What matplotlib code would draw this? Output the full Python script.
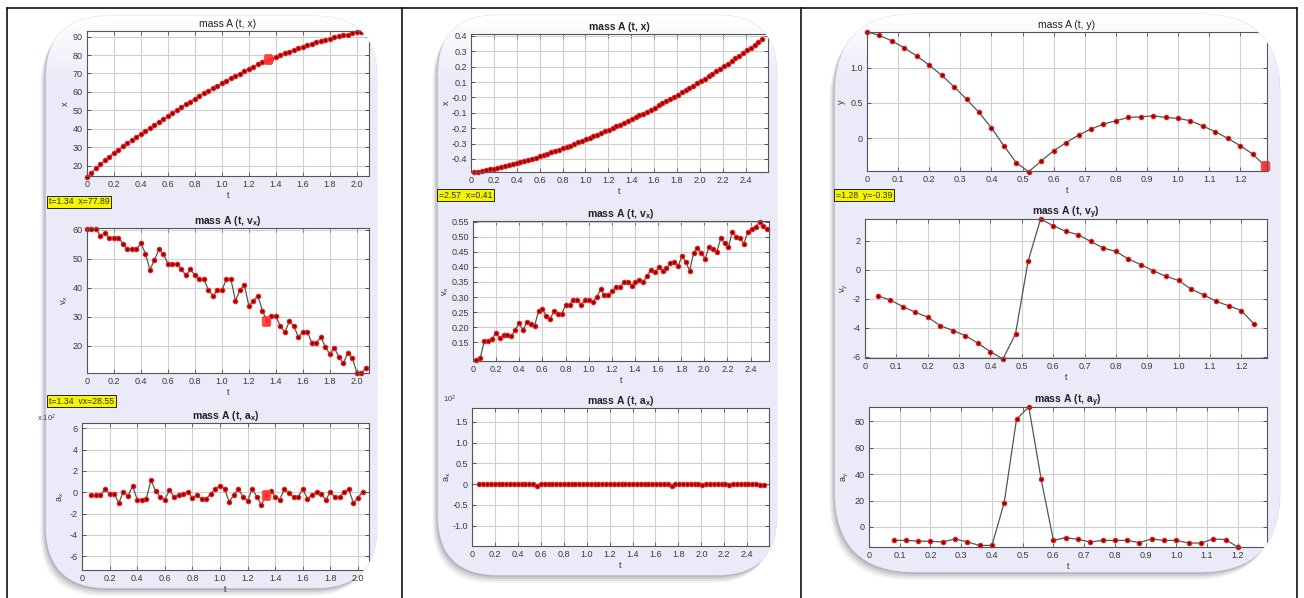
import numpy as np
import matplotlib
matplotlib.use('Agg')
import matplotlib.pyplot as plt
from matplotlib.patches import FancyBboxPatch

plt.rcParams['font.family'] = ['Liberation Sans', 'DejaVu Sans']
plt.rcParams['mathtext.default'] = 'regular'

# ---- panel 1 : mass A, x direction (dt = 1/30)
t1 = np.arange(63) / 30
x1 = [14.0, 16.3, 18.6, 20.8, 22.9, 25.0, 27.0, 28.8, 30.5, 32.2, 33.9, 35.6, 37.2, 38.9,
      40.5, 42.0, 43.6, 45.3, 47.0, 48.6, 50.2, 51.8, 53.4, 54.8, 56.4, 57.9, 59.3, 60.7,
      62.0, 63.3, 64.6, 65.9, 67.3, 68.7, 69.9, 71.2, 72.6, 73.7, 74.9, 76.1, 77.2, 78.1,
      79.1, 80.1, 81.0, 81.9, 82.8, 83.7, 84.5, 85.3, 86.1, 86.8, 87.5, 88.3, 88.9, 89.5,
      90.1, 90.7, 91.1, 91.7, 92.2, 92.6, 92.9]
v1 = [60.3, 60.3, 60.3, 57.8, 58.8, 57.0, 57.2, 57.2, 55.2, 53.2, 53.2, 53.2, 55.4, 51.7,
      46.2, 49.6, 53.2, 51.5, 48.3, 48.3, 48.3, 46.3, 44.3, 46.3, 44.3, 42.9, 42.9, 39.2,
      37.2, 39.2, 39.2, 42.9, 42.9, 35.5, 39.2, 40.9, 33.7, 35.5, 37.2, 32.1, 28.6, 30.2,
      30.2, 26.7, 24.7, 28.4, 26.7, 23.0, 24.7, 24.7, 21.0, 21.0, 23.0, 19.5, 17.2, 19.3,
      16.1, 14.0, 17.6, 15.9, 10.6, 10.6, 12.3]
a1 = [-0.3, -0.3, -0.3, 0.3, -0.15, -0.15, -1.0, 0.05, -0.35, 0.6,
      -0.7, -0.7, -0.6, 1.15, 0.1, -0.4, -0.7, 0.2, -0.4, -0.3,
      -0.15, 0.0, -0.5, -0.3, -0.6, -0.6, -0.15, 0.3, 0.6, 0.3,
      -0.9, -0.25, 0.3, -0.4, -0.8, 0.3, -0.4, -1.2, -0.25, 0.15,
      -0.4, -0.7, 0.3, -0.1, -0.45, -0.45, 0.3, -0.6, -0.25, 0.0,
      -0.15, -0.7, 0.0, -0.45, -0.45, 0.05, 0.3, -1.0, -0.55, 0.05]
tip1_t, tip1_x, tip1_v, tip1_a = 1.34, 77.89, 28.55, -0.3

# ---- panel 2 : mass A, x direction
t2 = np.linspace(0.03, 2.545, 76)
x2 = [-0.485, -0.482, -0.479, -0.473, -0.468, -0.463, -0.456, -0.451, -0.445, -0.439,
      -0.433, -0.426, -0.419, -0.413, -0.405, -0.398, -0.391, -0.382, -0.373, -0.365,
      -0.357, -0.349, -0.340, -0.332, -0.322, -0.313, -0.303, -0.293, -0.283, -0.273,
      -0.263, -0.253, -0.243, -0.232, -0.221, -0.211, -0.200, -0.188, -0.177, -0.165,
      -0.153, -0.141, -0.129, -0.117, -0.105, -0.092, -0.079, -0.066, -0.052, -0.038,
      -0.025, -0.011, 0.004, 0.017, 0.033, 0.047, 0.060, 0.076, 0.092, 0.107,
      0.122, 0.138, 0.154, 0.169, 0.186, 0.203, 0.219, 0.237, 0.254, 0.271,
      0.288, 0.306, 0.324, 0.343, 0.362, 0.380]
v2 = [0.089, 0.097, 0.155, 0.155, 0.159, 0.181, 0.163, 0.174, 0.174, 0.169,
      0.191, 0.213, 0.189, 0.218, 0.211, 0.205, 0.252, 0.261, 0.236, 0.228,
      0.252, 0.244, 0.244, 0.274, 0.274, 0.291, 0.291, 0.274, 0.291, 0.291,
      0.285, 0.299, 0.325, 0.307, 0.307, 0.321, 0.332, 0.332, 0.349, 0.349,
      0.338, 0.349, 0.357, 0.349, 0.371, 0.390, 0.382, 0.399, 0.388, 0.395,
      0.412, 0.418, 0.402, 0.437, 0.415, 0.388, 0.446, 0.463, 0.446, 0.428,
      0.467, 0.459, 0.451, 0.495, 0.479, 0.468, 0.518, 0.501, 0.495, 0.478,
      0.518, 0.526, 0.534, 0.550, 0.537, 0.526]
a2 = [0.0, 0.0, -0.01, 0.0, 0.0, 0.0, -0.01, 0.0, 0.0, 0.0,
      0.01, 0.0, 0.0, 0.0, -0.01, -0.04, 0.0, 0.0, 0.01, 0.0,
      0.0, 0.0, 0.0, -0.01, 0.0, 0.0, 0.0, 0.0, 0.01, 0.0,
      0.0, 0.0, -0.01, 0.0, 0.0, 0.0, 0.0, 0.0, 0.01, 0.0,
      0.0, 0.0, -0.01, 0.0, 0.0, 0.0, 0.0, 0.0, -0.01, 0.0,
      -0.04, 0.0, 0.01, 0.0, 0.0, 0.0, -0.01, 0.0, -0.03, 0.0,
      0.0, 0.0, 0.01, 0.0, -0.01, -0.03, 0.0, 0.0, 0.0, 0.0,
      -0.01, 0.0, 0.0, -0.02, -0.03]

# ---- panel 3 : mass A, y direction (dt = 0.04)
t3 = np.arange(33) * 0.04
y3 = [1.502, 1.455, 1.376, 1.277, 1.164, 1.033, 0.892, 0.728, 0.554, 0.366, 0.150,
      -0.103, -0.343, -0.469, -0.319, -0.174, -0.061, 0.047, 0.131, 0.202, 0.249,
      0.296, 0.305, 0.319, 0.296, 0.282, 0.249, 0.174, 0.094, 0.0, -0.103, -0.221, -0.39]
vy3 = [-1.80, -2.08, -2.54, -2.93, -3.28, -3.86, -4.20, -4.55, -5.08, -5.66, -6.17,
       -4.43, 0.58, 3.51, 3.05, 2.66, 2.42, 1.96, 1.50, 1.27, 0.74, 0.35, -0.07,
       -0.46, -0.74, -1.34, -1.73, -2.19, -2.49, -2.82, -3.74]
ay3 = [-10.2, -10.2, -10.7, -10.9, -11.4, -9.1, -11.4, -14.0, -14.0, 18.5, 81.7,
       90.9, 36.3, -10.2, -8.1, -9.4, -11.4, -10.2, -10.2, -10.2, -11.9, -9.1,
       -10.2, -10.2, -12.2, -12.2, -9.1, -9.6, -15.2]
tip3_t, tip3_y = 1.28, -0.39

W, H = 1304, 598
fig = plt.figure(figsize=(W / 100, H / 100), dpi=100)
fig.patch.set_facecolor('white')
bg = fig.add_axes([0, 0, 1, 1])
bg.axis('off')

# table grid lines
for xx in (7, 402, 801, 1297):
    bg.plot([xx, xx], [8, H], color='#111111', lw=1.2)
bg.plot([7, 1297], [8, 8], color='#111111', lw=1.2)


def draw_panel(l, t, r, b, rad):
    style = f'round,pad=0,rounding_size={rad}'
    for k, al in ((8, 0.08), (6, 0.12), (4, 0.18), (2, 0.25)):
        bg.add_patch(FancyBboxPatch((l - k * 0.7, t + k), r - l, b - t, boxstyle=style,
                                    fc='#6e6e7c', ec='none', alpha=al, zorder=1))
    p = FancyBboxPatch((l, t), r - l, b - t, boxstyle=style, fc='#ebebfa',
                       ec='#d6d6e6', lw=0.6, zorder=2)
    bg.add_patch(p)
    n = 120
    s = np.clip(np.arange(n) / 14.0, 0, 1)[:, None, None]
    white = np.array([1.0, 1.0, 1.0])
    lav = np.array([0.918, 0.918, 0.976])
    grad = np.repeat(white * (1 - s) + lav * s, 4, axis=1)
    im = bg.imshow(grad, extent=(l, r, b, t), aspect='auto', zorder=2.5)
    im.set_clip_path(p)
    return p


pan1 = draw_panel(46, 16, 377, 588, 62)
pan2 = draw_panel(438, 15, 777, 575, 60)
pan3 = draw_panel(835, 14, 1280, 572, 80)
bg.set_xlim(0, W)
bg.set_ylim(H, 0)


def fmt(v):
    if abs(v) < 1e-9:
        return '0'
    return f'{v:.1f}'


def make_axes(box, panel, tt, yy, xlim, ylim, xticks, yticks, ylabels, title,
              bold, ylab, ylab_x, xlabels=None):
    l, t, r, b = box
    ax = fig.add_axes([l / W, 1 - b / H, (r - l) / W, (b - t) / H])
    ax.set_facecolor('white')
    ax.plot(tt, yy, color='#4f5a4f', lw=0.9, marker='o', ms=3.0,
            mfc='#6a0000', mec='#f01c1c', mew=1.0)
    ax.set_xlim(*xlim)
    ax.set_ylim(*ylim)
    ax.set_xticks(xticks)
    ax.set_xticklabels(xlabels if xlabels else [fmt(v) for v in xticks])
    ax.set_yticks(yticks)
    ax.set_yticklabels(ylabels)
    ax.grid(True, color='#cfcfcf', lw=0.8)
    ax.tick_params(direction='in', top=True, right=True, length=3, width=0.6,
                   labelsize=6.5, labelcolor='#3a3a3a', color='#555555', pad=3)
    for sp in ax.spines.values():
        sp.set_color('#555555')
        sp.set_linewidth(0.8)
    ax.set_title(title, fontsize=7.5, color='#222222', pad=3,
                 fontweight='bold' if bold else 'normal')
    ax.set_xlabel('t', fontsize=6.5, color='#333333')
    ax.xaxis.set_label_coords((l + r) / 2, b + 15, transform=bg.transData)
    ax.set_ylabel(ylab, fontsize=6.5, color='#333333')
    ax.yaxis.set_label_coords(ylab_x, (t + b) / 2, transform=bg.transData)
    return ax


def clip_axes(ax, panel):
    arts = [ax.patch, *ax.spines.values(), *ax.lines,
            *ax.get_xticklabels(), *ax.get_yticklabels(),
            *ax.xaxis.get_gridlines(), *ax.yaxis.get_gridlines(),
            *ax.xaxis.get_ticklines(), *ax.yaxis.get_ticklines()]
    for a in arts:
        a.set_clip_on(True)
        a.set_clip_path(panel)


def tip(x, y, text):
    bg.text(x, y, text, fontsize=6.3, color='#333300', va='center', ha='left', zorder=5,
            bbox=dict(boxstyle='square,pad=0.18', fc='#f5f500', ec='#222222', lw=0.7))


xt1 = np.round(np.arange(0, 2.01, 0.2), 1)
xt2 = np.round(np.arange(0, 2.41, 0.2), 1)
xt3 = np.round(np.arange(0, 1.21, 0.1), 1)

# panel 1
ax = make_axes((87, 31, 369, 176), pan1, t1, x1, (0, 2.09), (14.5, 93), xt1,
               list(range(20, 91, 10)), [str(v) for v in range(20, 91, 10)],
               'mass A (t, x)', False, 'x', 70)
ax.plot(tip1_t, tip1_x, 's', ms=6, color='#ff3a3a', alpha=0.85)
clip_axes(ax, pan1)
ax = make_axes((87, 228, 369, 373), pan1, t1, v1, (0, 2.09), (10.6, 60.6), xt1,
               list(range(20, 61, 10)), [str(v) for v in range(20, 61, 10)],
               'mass A (t, v$_x$)', True, 'v$_x$', 70)
ax.plot(tip1_t - 0.01, tip1_v, 's', ms=6, color='#ff3a3a', alpha=0.85)
clip_axes(ax, pan1)
ax = make_axes((82, 423, 369, 570), pan1, t1[2:62], a1, (0, 2.08), (-7.3, 6.5), xt1,
               list(range(-6, 7, 2)), [str(v) for v in range(-6, 7, 2)],
               'mass A (t, a$_x$)', True, 'a$_x$', 66)
ax.plot(tip1_t - 0.01, tip1_a, 's', ms=6, color='#ff3a3a', alpha=0.85)
clip_axes(ax, pan1)
bg.text(37, 418, 'x 10$^2$', fontsize=5.5, color='#444444', va='center', zorder=5)
tip(49, 202, 't=1.34  x=77.89')
tip(49, 401, 't=1.34  vx=28.55')

# panel 2
yt = np.round(np.arange(-0.4, 0.41, 0.1), 1)
yl = ['-0.0' if abs(v) < 1e-9 else f'{v:.1f}' for v in yt]
ax = make_axes((471, 34, 768, 172), pan2, t2, x2, (0, 2.595), (-0.485, 0.413), xt2,
               yt, yl, 'mass A (t, x)', True, 'x', 451)
clip_axes(ax, pan2)
yt = np.round(np.arange(0.15, 0.551, 0.05), 2)
ax = make_axes((473, 221, 769, 361), pan2, t2, v2, (0, 2.56), (0.087, 0.553), xt2,
               yt, [f'{v:.2f}' for v in yt], 'mass A (t, v$_x$)', True, 'v$_x$', 451)
clip_axes(ax, pan2)
yt = [-1.0, -0.5, 0.0, 0.5, 1.0, 1.5]
ax = make_axes((472, 408, 769, 546), pan2, t2[1:], a2, (0, 2.59), (-1.49, 1.83), xt2,
               yt, [fmt(v) for v in yt], 'mass A (t, a$_x$)', True, 'a$_x$', 453)
clip_axes(ax, pan2)
bg.text(443, 399, '10$^2$', fontsize=5.5, color='#444444', va='center', zorder=5)
tip(439, 195, '=2.57  x=0.41')

# panel 3
ax = make_axes((867, 32, 1267, 171), pan3, t3, y3, (0, 1.286), (-0.46, 1.502), xt3,
               [0, 0.5, 1.0], ['0', '0.5', '1.0'], 'mass A (t, y)', False, 'y', 846)
ax.plot(tip3_t, tip3_y, 's', ms=6, color='#ff3a3a', alpha=0.9)
clip_axes(ax, pan3)
ax = make_axes((865, 219, 1267, 358), pan3, t3[1:32], vy3, (0, 1.282), (-6.1, 3.51), xt3,
               [-6, -4, -2, 0, 2], ['-6', '-4', '-2', '0', '2'],
               'mass A (t, v$_y$)', True, 'v$_y$', 850)
clip_axes(ax, pan3)
ax = make_axes((869, 407, 1267, 547), pan3, t3[2:31], ay3, (0, 1.295), (-15.2, 90.9), xt3,
               [0, 20, 40, 60, 80], ['0', '20', '40', '60', '80'],
               'mass A (t, a$_y$)', True, 'a$_y$', 851)
clip_axes(ax, pan3)
tip(836, 195, '=1.28  y=-0.39')

fig.savefig('out.png', dpi=100)
